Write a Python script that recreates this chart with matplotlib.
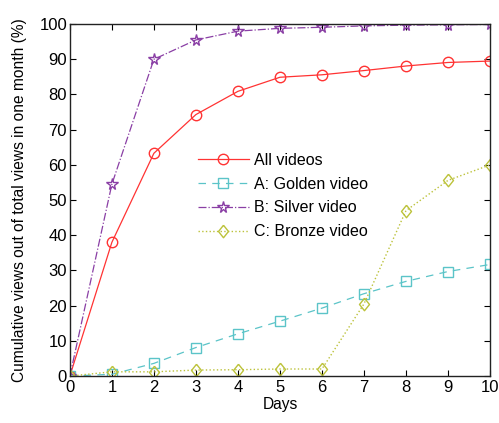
import numpy as np
import matplotlib.pyplot as plt

plt.rcParams['font.family'] = ['Liberation Sans', 'DejaVu Sans']

days = list(range(11))
all_videos = [0, 38.0, 63.3, 74.3, 80.9, 84.9, 85.6, 86.8, 88.1, 89.1, 89.5]
golden = [0, 0.5, 3.6, 8.1, 12.0, 15.6, 19.3, 23.4, 26.9, 29.7, 31.7]
silver = [0, 54.5, 90.0, 95.5, 98.0, 98.8, 99.1, 99.5, 99.7, 99.8, 99.9]
bronze = [0, 1.2, 1.2, 1.7, 1.8, 2.0, 2.0, 20.5, 47.0, 55.6, 60.0]

# tall diamond like the matlab one
diamond = [(0, 1), (0.8, 0), (0, -1), (-0.8, 0), (0, 1)]

fig = plt.figure(figsize=(4.99, 4.23), dpi=100)
ax = fig.add_axes([0.14, 0.111, 0.842, 0.832])

ax.plot(days, all_videos, '-', color='#ff3333', marker='o', markersize=7.5,
        markerfacecolor='none', linewidth=0.9, label='All videos')
ax.plot(days, golden, '--', color='#5bc4c8', marker='s', markersize=6.5,
        markerfacecolor='none', linewidth=0.9, dashes=(6, 5), label='A: Golden video')
ax.plot(days, silver, '-.', color='#8a3fa5', marker='*', markersize=8.5,
        markerfacecolor='none', linewidth=0.9, label='B: Silver video')
ax.plot(days, bronze, ':', color='#bcc23a', marker=diamond, markersize=9,
        markerfacecolor='none', linewidth=1.0, label='C: Bronze video')

ax.set_xlim(0, 10)
ax.set_ylim(0, 100)
ax.set_xticks(range(0, 11))
ax.set_yticks(range(0, 101, 10))
ax.tick_params(direction='in', top=True, right=True, labelsize=12, length=4)
ax.tick_params(axis='x', pad=2.5)
ax.tick_params(axis='y', pad=2)
for s in ax.spines.values():
    s.set_linewidth(1.0)
    s.set_color('#222222')

ax.set_xlabel('Days', fontsize=11.2, labelpad=2)
ax.set_ylabel('Cumulative views out of total views in one month (%)', fontsize=11.2, labelpad=9)

ax.legend(loc='upper left', bbox_to_anchor=(0.27, 0.675), frameon=False,
          fontsize=11.5, handlelength=3.2, labelspacing=0.55, handletextpad=0.3)

fig.savefig('out.png', dpi=100)
